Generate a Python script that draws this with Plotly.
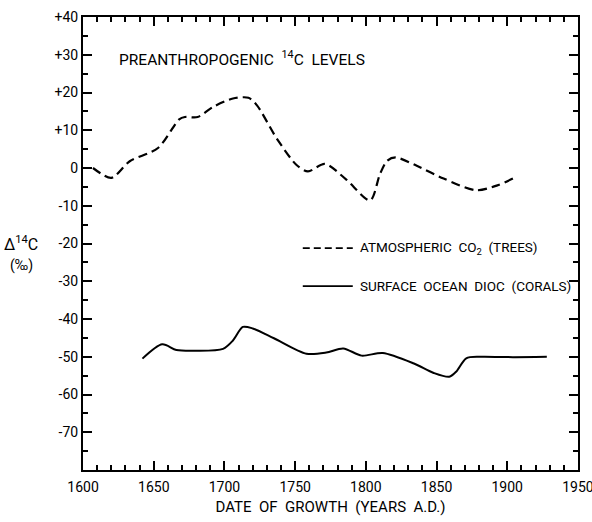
import plotly.graph_objects as go

# Atmospheric CO2 (trees), dashed
atm_years = [1607, 1620, 1633, 1653, 1668, 1672, 1681, 1692, 1706, 1717, 1723,
             1737, 1751, 1759, 1771, 1786, 1803, 1810, 1815, 1821, 1836, 1855,
             1878, 1893, 1904]
atm_vals = [0.0, -2.6, 1.8, 5.3, 12.9, 13.5, 13.5, 16.2, 18.4, 18.6, 16.6,
            7.8, 0.8, -0.9, 1.1, -3.0, -8.6, -1.6, 1.9, 2.8, 0.6, -2.8,
            -5.9, -4.6, -2.8]

# Surface ocean DIOC (corals), solid
ocn_years = [1642, 1656, 1666, 1680, 1699, 1706, 1713, 1720, 1735, 1758, 1772,
             1784, 1797, 1812, 1834, 1848, 1859, 1864, 1871, 1881, 1904, 1928]
ocn_vals = [-50.5, -46.7, -48.2, -48.4, -47.9, -45.7, -42.1, -42.5, -45.1,
            -49.2, -48.9, -47.8, -49.7, -49.0, -51.8, -54.3, -55.3, -53.9,
            -50.4, -50.0, -50.1, -50.0]

x_ticks = [1600, 1650, 1700, 1750, 1800, 1850, 1900, 1950]
y_ticks = [40, 30, 20, 10, 0, -10, -20, -30, -40, -50, -60, -70]
y_ticktext = ["+40", "+30", "+20", "+10", "0", "-10", "-20", "-30", "-40",
              "-50", "-60", "-70"]

legend_labels = ["ATMOSPHERIC  CO<sub>2</sub>  (TREES)",
                 "SURFACE  OCEAN  DIOC  (CORALS)"]

FONT = "Roboto, DejaVu Sans, sans-serif"

fig = go.Figure()
fig.add_trace(go.Scatter(x=atm_years, y=atm_vals, mode="lines",
                         line=dict(color="black", width=2.2, dash="9px,5px",
                                   shape="spline", smoothing=0.8),
                         showlegend=False))
fig.add_trace(go.Scatter(x=ocn_years, y=ocn_vals, mode="lines",
                         line=dict(color="black", width=2, shape="spline",
                                   smoothing=0.8),
                         showlegend=False))

fig.update_xaxes(range=[1599.95, 1950.05], tickvals=x_ticks,
                 ticks="inside", ticklen=9, tickwidth=1.5, tickcolor="black",
                 minor=dict(dtick=10, ticks="inside", ticklen=5,
                            tickwidth=1.5, tickcolor="black"),
                 showline=True, linecolor="black", linewidth=2,
                 mirror="allticks", showgrid=False, zeroline=False,
                 ticklabeloverflow="allow", automargin=False,
                 ticklabelstandoff=3,
                 tickfont=dict(family=FONT, size=14, color="black"),
                 title=dict(text="DATE  OF  GROWTH  (YEARS  A.D.)",
                            font=dict(family=FONT, size=15, color="black"),
                            standoff=8))
fig.update_yaxes(range=[-80, 40], tickvals=y_ticks, ticktext=y_ticktext,
                 ticks="inside", ticklen=9, tickwidth=1.5, tickcolor="black",
                 minor=dict(dtick=5, ticks="inside", ticklen=5,
                            tickwidth=1.5, tickcolor="black"),
                 showline=True, linecolor="black", linewidth=2,
                 mirror="allticks", showgrid=False, zeroline=False,
                 automargin=False,
                 tickfont=dict(family=FONT, size=14, color="black"))

# legend drawn manually
legend_y = [0.49, 0.406]
legend_dash = ["7px,4px", "solid"]
for ly, lab, dsh in zip(legend_y, legend_labels, legend_dash):
    fig.add_shape(type="line", xref="paper", yref="paper",
                  x0=0.444, x1=0.545, y0=ly, y1=ly,
                  line=dict(color="black", width=1.8, dash=dsh))
    fig.add_annotation(xref="paper", yref="paper", x=0.556, y=ly,
                       xanchor="left", yanchor="middle", showarrow=False,
                       text=lab, font=dict(family=FONT, size=13.5, color="black"))

fig.add_annotation(xref="paper", yref="paper", x=0.068, y=0.909,
                   xanchor="left", yanchor="middle", showarrow=False,
                   text="PREANTHROPOGENIC  <sup>14</sup>C  LEVELS",
                   font=dict(family=FONT, size=15.5, color="black"))

fig.add_annotation(xref="paper", yref="paper", x=-0.125, y=0.5,
                   xanchor="center", yanchor="middle", showarrow=False,
                   text="Δ<sup>14</sup>C", font=dict(family=FONT, size=16, color="black"))
fig.add_annotation(xref="paper", yref="paper", x=-0.125, y=0.452,
                   xanchor="center", yanchor="middle", showarrow=False,
                   text="(‰)", font=dict(family=FONT, size=14, color="black"))

fig.update_layout(width=592, height=522,
                  margin=dict(l=83, r=14, t=17, b=52),
                  paper_bgcolor="white", plot_bgcolor="white",
                  font=dict(family=FONT, color="black"))

fig.write_html("out.html")
